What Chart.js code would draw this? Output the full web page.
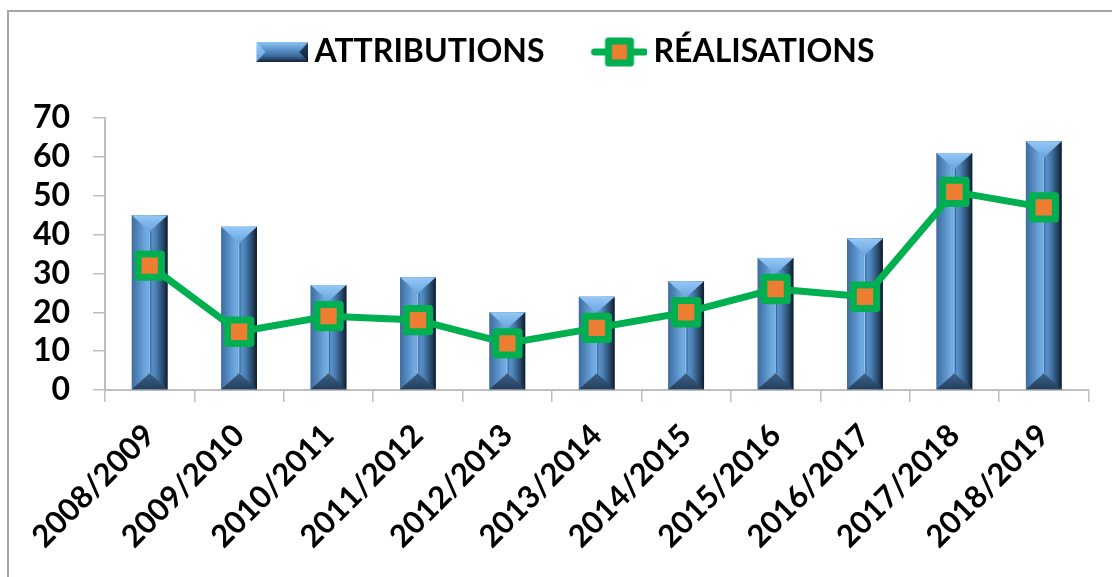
<!DOCTYPE html>
<html>
<head>
<meta charset="utf-8">
<script src="https://cdn.jsdelivr.net/npm/chart.js@4.4.0/dist/chart.umd.min.js"></script>
<style>
    html, body { margin: 0; padding: 0; background: #fff; }
    #wrap { position: relative; width: 1112px; height: 577px; overflow: hidden; }
    #frame {
        position: absolute; left: 7px; top: 10px; width: 1200px; height: 700px;
        border-top: 2px solid #a6a6a6; border-left: 2px solid #a6a6a6;
        pointer-events: none;
    }
</style>
</head>
<body>
<div id="wrap">
    <canvas id="chart"></canvas>
    <div id="frame"></div>
</div>
<script>
const seasons = ['2008/2009', '2009/2010', '2010/2011', '2011/2012', '2012/2013', '2013/2014',
    '2014/2015', '2015/2016', '2016/2017', '2017/2018', '2018/2019'];
const attributions = [45, 42, 27, 29, 20, 24, 28, 34, 39, 61, 64];
const realisations = [32, 15, 19, 18, 12, 16, 20, 26, 24, 51, 47];
const yMin = 0;
const yMax = 70;
const yStep = 10;

const FONT = 'Lato, "Open Sans", "DejaVu Sans", sans-serif';
const GREEN = '#00b050';
const ORANGE = '#ed7d31';

// bar body gradient, left to right
function barGradient(ctx, l, r) {
    const g = ctx.createLinearGradient(l, 0, r, 0);
    g.addColorStop(0, '#3f6d9c');
    g.addColorStop(0.18, '#5287bf');
    g.addColorStop(0.42, '#72ace2');
    g.addColorStop(0.5, '#5f99d2');
    g.addColorStop(0.66, '#4d82b8');
    g.addColorStop(0.86, '#2a4a6c');
    g.addColorStop(1, '#101b2a');
    return g;
}

// legend icons (visible part sits on the right of each canvas)
function makeBarIcon() {
    const c = document.createElement('canvas');
    c.width = 102; c.height = 22;
    const ctx = c.getContext('2d');
    const l = 50, r = 102, t = 1, b = 21;
    const g = ctx.createLinearGradient(0, t, 0, b);
    g.addColorStop(0, '#8cc4f2');
    g.addColorStop(0.35, '#5f98d0');
    g.addColorStop(0.7, '#3d6b9a');
    g.addColorStop(1, '#14233a');
    ctx.fillStyle = g;
    ctx.fillRect(l, t, r - l, b - t);
    ctx.fillStyle = 'rgba(150,205,255,0.7)';
    ctx.beginPath(); ctx.moveTo(l, t); ctx.lineTo(l + 9, (t + b) / 2); ctx.lineTo(l, b); ctx.closePath(); ctx.fill();
    ctx.fillStyle = 'rgba(10,20,35,0.75)';
    ctx.beginPath(); ctx.moveTo(r, t); ctx.lineTo(r - 9, (t + b) / 2); ctx.lineTo(r, b); ctx.closePath(); ctx.fill();
    return c;
}

function makeLineIcon() {
    const c = document.createElement('canvas');
    c.width = 102; c.height = 32;
    const ctx = c.getContext('2d');
    ctx.strokeStyle = GREEN;
    ctx.lineWidth = 7;
    ctx.lineCap = 'round';
    ctx.beginPath(); ctx.moveTo(49, 16); ctx.lineTo(99, 16); ctx.stroke();
    ctx.lineJoin = 'round';
    ctx.fillStyle = ORANGE;
    ctx.beginPath(); ctx.rect(63, 5, 22, 22); ctx.fill(); ctx.stroke();
    return c;
}

const legendIcons = [makeBarIcon(), makeLineIcon()];

// empty band between the legend and the plot
const legendSpacer = {
    id: 'legendSpacer',
    beforeInit(chart) {
        Chart.layouts.addBox(chart, {
            position: 'top',
            weight: 500,
            fullSize: true,
            options: {},
            left: 0, top: 0, right: 0, bottom: 0, width: 0, height: 0,
            isHorizontal() { return true; },
            update(maxWidth) {
                this.width = maxWidth;
                this.height = 40;
                return { width: maxWidth, height: 40 };
            },
            getPadding() { return { top: 0, left: 0, right: 0, bottom: 0 }; },
            draw() {}
        });
    }
};

// bevelled look drawn on top of each bar element
const bevelBars = {
    id: 'bevelBars',
    beforeDatasetDraw(chart, args) {
        if (args.index === 1) {
            chart.ctx.lineJoin = 'round';
        }
    },
    afterDatasetDraw(chart, args) {
        if (args.index === 1) {
            chart.ctx.lineJoin = 'miter';
            return;
        }
        if (args.index !== 0) return;
        const ctx = chart.ctx;
        args.meta.data.forEach(bar => {
            const { x, y, base, width } = bar.getProps(['x', 'y', 'base', 'width'], true);
            const l = x - width / 2;
            const r = x + width / 2;
            const t = y;
            const b = base;
            const d = Math.min(width * 0.45, (b - t) / 2);

            ctx.save();
            ctx.fillStyle = barGradient(ctx, l, r);
            ctx.fillRect(l, t, width, b - t);

            // top facet
            const gt = ctx.createLinearGradient(0, t, 0, t + d);
            gt.addColorStop(0, '#94c8f6');
            gt.addColorStop(1, '#6aa5de');
            ctx.fillStyle = gt;
            ctx.beginPath();
            ctx.moveTo(l, t); ctx.lineTo(r, t); ctx.lineTo(x, t + d); ctx.closePath();
            ctx.fill();

            // bottom facet
            const gb = ctx.createLinearGradient(0, b - d, 0, b);
            gb.addColorStop(0, '#3c6288');
            gb.addColorStop(1, '#263f5c');
            ctx.fillStyle = gb;
            ctx.beginPath();
            ctx.moveTo(l, b); ctx.lineTo(r, b); ctx.lineTo(x, b - d); ctx.closePath();
            ctx.fill();

            // centre ridge
            ctx.strokeStyle = 'rgba(160,210,250,0.8)';
            ctx.lineWidth = 1;
            ctx.beginPath();
            ctx.moveTo(x - 0.5, t + d); ctx.lineTo(x - 0.5, b - d);
            ctx.stroke();
            ctx.strokeStyle = 'rgba(30,55,85,0.5)';
            ctx.beginPath();
            ctx.moveTo(x + 1, t + d); ctx.lineTo(x + 1, b - d);
            ctx.stroke();
            ctx.restore();
        });
    }
};

const ctx = document.getElementById('chart').getContext('2d');
new Chart(ctx, {
    type: 'bar',
    data: {
        labels: seasons,
        datasets: [
            {
                type: 'bar',
                label: 'ATTRIBUTIONS',
                data: attributions,
                backgroundColor: '#4f81bd',
                borderWidth: 0,
                categoryPercentage: 1,
                barPercentage: 0.4,
                order: 2
            },
            {
                type: 'line',
                label: 'RÉALISATIONS',
                data: realisations,
                borderColor: GREEN,
                borderWidth: 7,
                borderJoinStyle: 'round',
                tension: 0,
                pointStyle: 'rect',
                pointRadius: 16.5,
                pointHoverRadius: 16.5,
                pointBorderWidth: 7,
                pointBackgroundColor: ORANGE,
                pointBorderColor: GREEN,
                order: 1
            }
        ]
    },
    options: {
        responsive: true,
        maintainAspectRatio: false,
        animation: false,
        layout: {
            padding: { top: 25, right: 21, left: 0, bottom: 0 }
        },
        plugins: {
            tooltip: { enabled: false },
            legend: {
                position: 'top',
                align: 'center',
                labels: {
                    usePointStyle: true,
                    pointStyleWidth: 82,
                    padding: 11,
                    color: '#000',
                    font: { family: FONT, size: 32, weight: 'bold' },
                    generateLabels(chart) {
                        return chart.data.datasets.map((ds, i) => ({
                            text: ds.label,
                            datasetIndex: i,
                            pointStyle: legendIcons[i],
                            fillStyle: 'rgba(0,0,0,0)',
                            strokeStyle: 'rgba(0,0,0,0)',
                            lineWidth: 0,
                            fontColor: '#000',
                            hidden: false
                        }));
                    }
                }
            }
        },
        scales: {
            x: {
                offset: true,
                grid: {
                    display: true,
                    offset: true,
                    drawOnChartArea: false,
                    drawTicks: true,
                    tickLength: 12,
                    color: '#bfbfbf',
                    lineWidth: 1.5
                },
                border: { display: true, color: '#bfbfbf', width: 2 },
                ticks: {
                    autoSkip: false,
                    maxRotation: 45,
                    minRotation: 45,
                    padding: 15,
                    color: '#000',
                    font: { family: FONT, size: 31, weight: 'bold' }
                },
                afterFit(scale) {
                    scale.height = 187;
                    scale.paddingLeft = 0;
                    scale.paddingRight = 0;
                }
            },
            y: {
                min: yMin,
                max: yMax,
                grid: {
                    display: true,
                    drawOnChartArea: false,
                    drawTicks: true,
                    tickLength: 12,
                    color: '#bfbfbf',
                    lineWidth: 1.5
                },
                border: { display: true, color: '#bfbfbf', width: 2 },
                ticks: {
                    stepSize: yStep,
                    autoSkip: false,
                    padding: 23,
                    color: '#000',
                    font: { family: FONT, size: 32, weight: 'bold' }
                },
                afterFit(scale) {
                    scale.width = 105;
                }
            }
        }
    },
    plugins: [legendSpacer, bevelBars]
});
</script>
</body>
</html>
